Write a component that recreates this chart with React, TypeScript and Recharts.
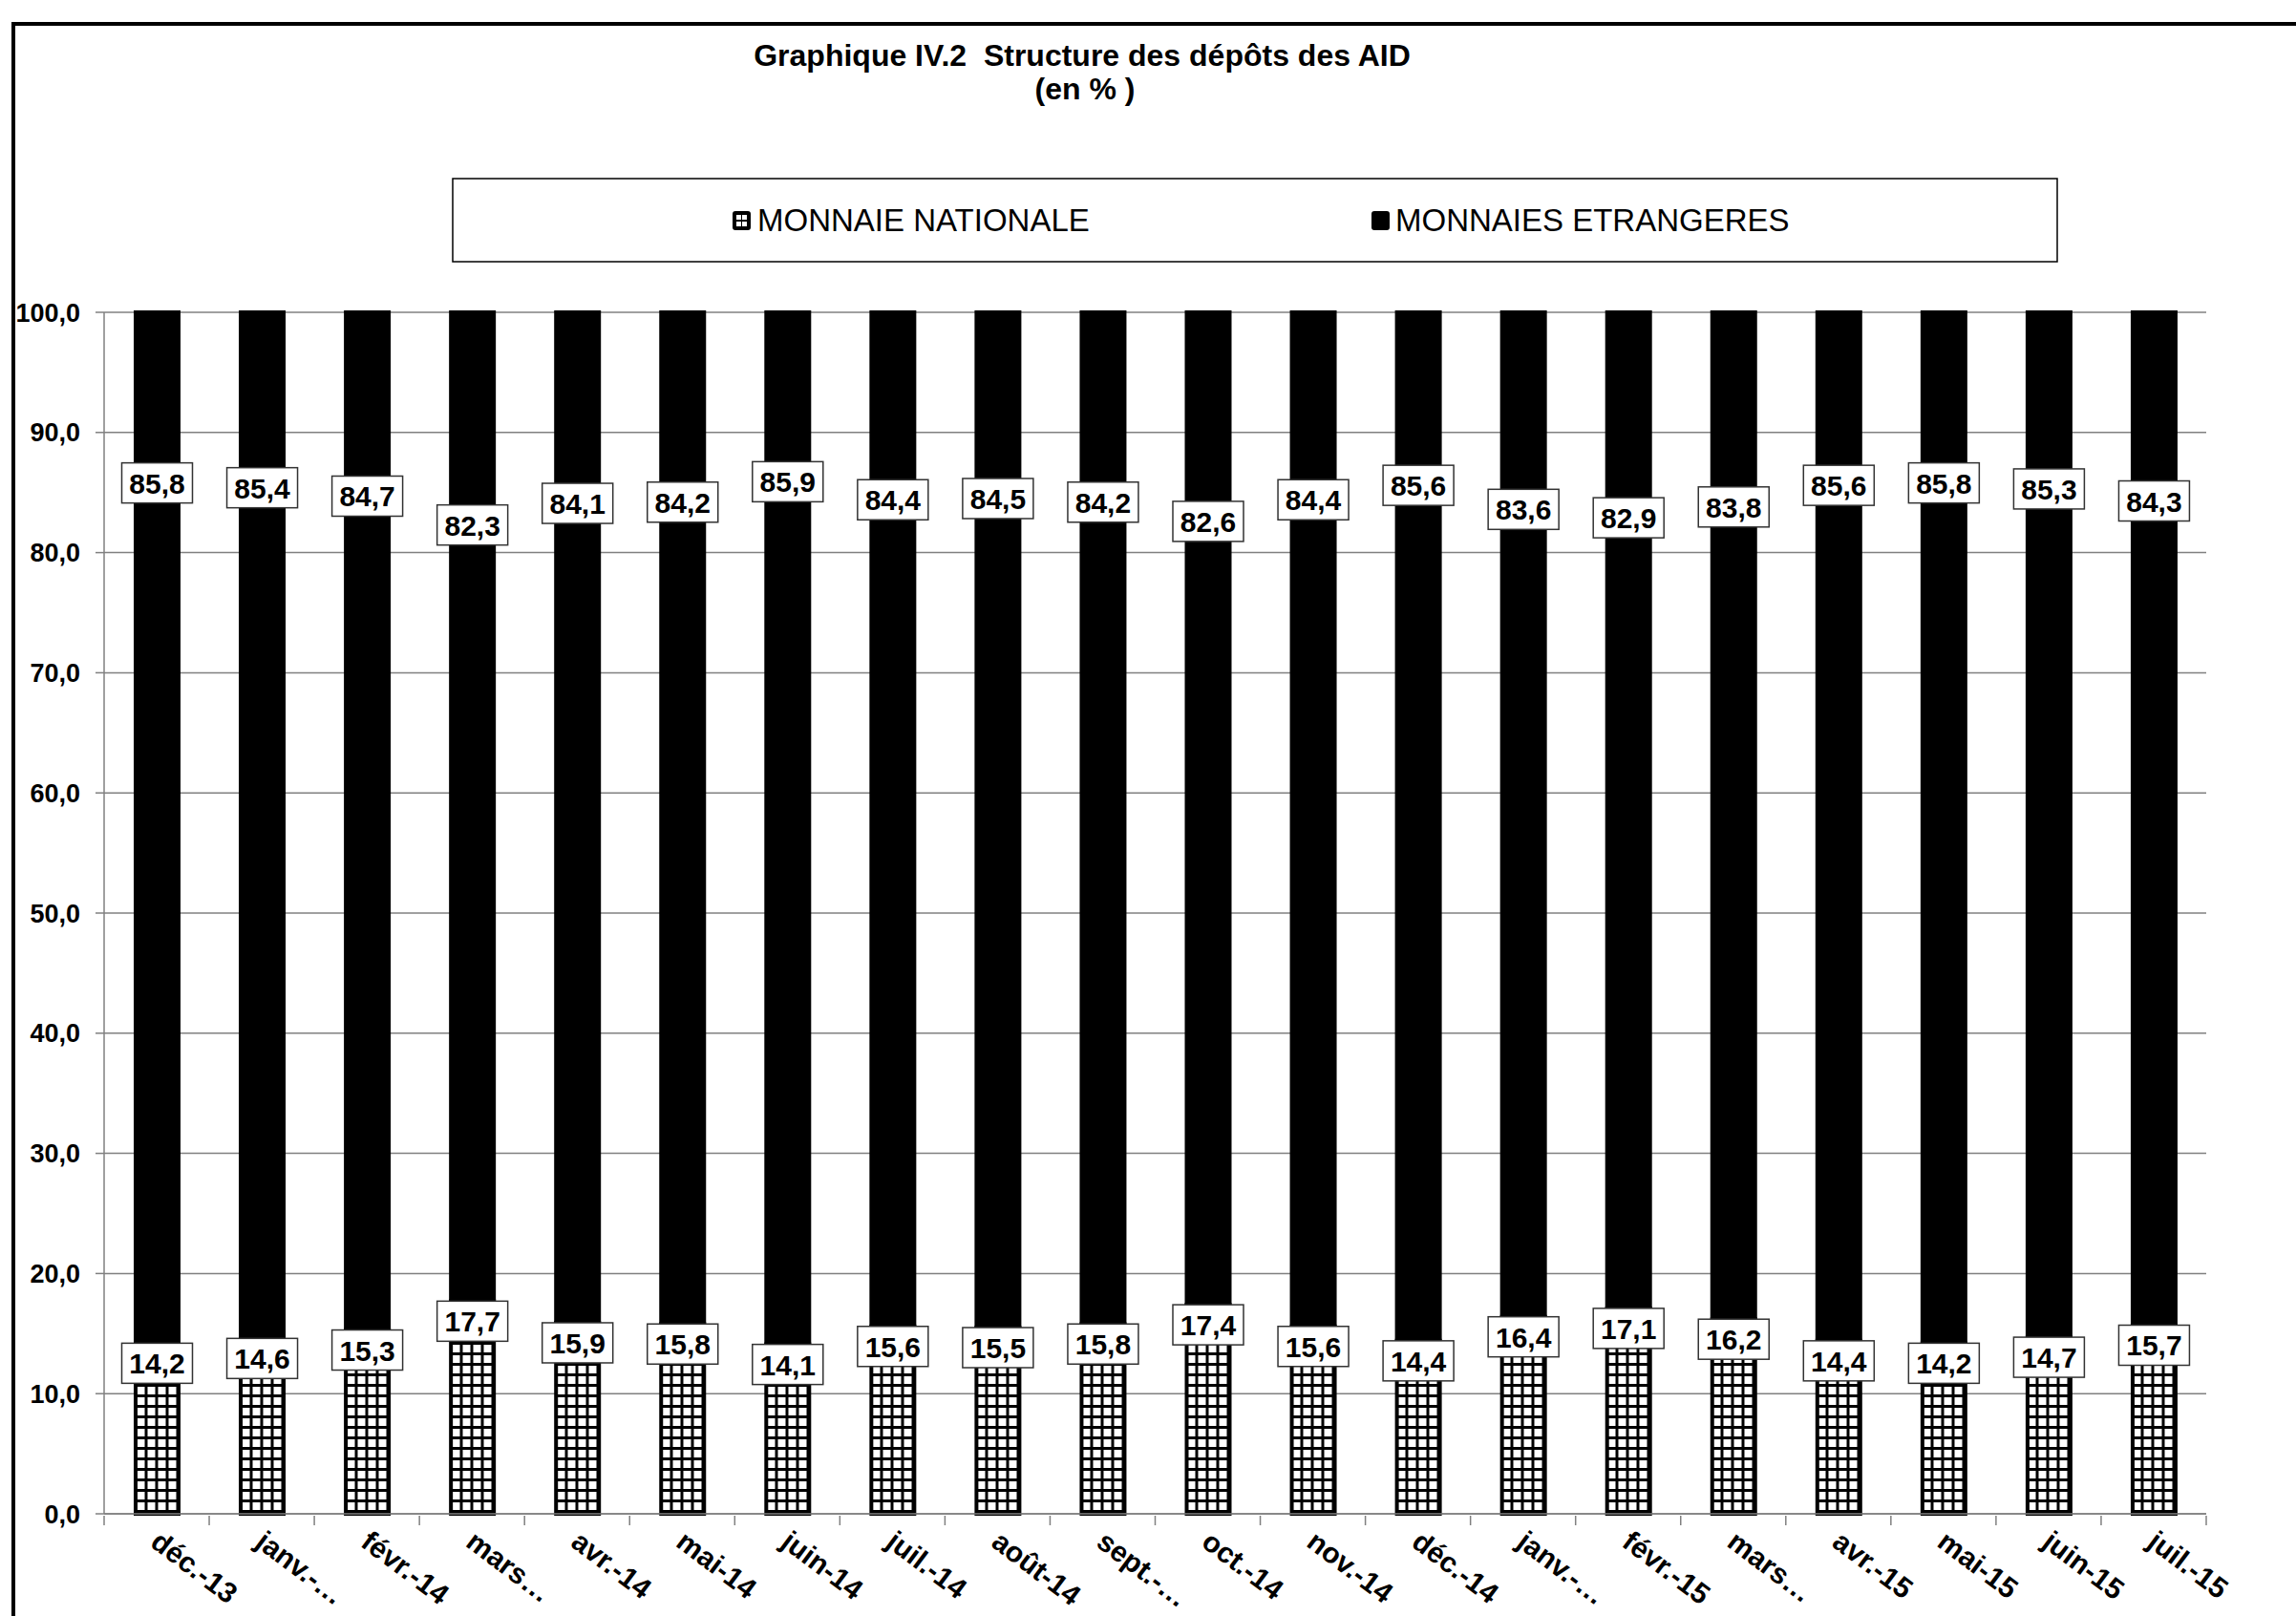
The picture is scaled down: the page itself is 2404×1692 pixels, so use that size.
import React from 'react';
import { BarChart, Bar, XAxis, YAxis, CartesianGrid, LabelList } from 'recharts';

const MONTHS = [
  'déc.-13', 'janv.-14', 'févr.-14', 'mars-14', 'avr.-14', 'mai-14', 'juin-14', 'juil.-14', 'août-14', 'sept.-14',
  'oct.-14', 'nov.-14', 'déc.-14', 'janv.-15', 'févr.-15', 'mars-15', 'avr.-15', 'mai-15', 'juin-15', 'juil.-15',
];
// labels as printed on the axis (Excel truncated some of them)
const TICK_LABELS = [
  'déc.-13', 'janv.-…', 'févr.-14', 'mars…', 'avr.-14', 'mai-14', 'juin-14', 'juil.-14', 'août-14', 'sept.-…',
  'oct.-14', 'nov.-14', 'déc.-14', 'janv.-…', 'févr.-15', 'mars…', 'avr.-15', 'mai-15', 'juin-15', 'juil.-15',
];
const NATIONALE = [14.2, 14.6, 15.3, 17.7, 15.9, 15.8, 14.1, 15.6, 15.5, 15.8, 17.4, 15.6, 14.4, 16.4, 17.1, 16.2, 14.4, 14.2, 14.7, 15.7];
const ETRANGERES = [85.8, 85.4, 84.7, 82.3, 84.1, 84.2, 85.9, 84.4, 84.5, 84.2, 82.6, 84.4, 85.6, 83.6, 82.9, 83.8, 85.6, 85.8, 85.3, 84.3];
const Y_TICKS = [0, 10, 20, 30, 40, 50, 60, 70, 80, 90, 100];

const data = MONTHS.map((m, i) => ({ month: m, nat: NATIONALE[i], etr: ETRANGERES[i] }));

const W = 2404;
const H = 1692;
const PLOT_LEFT = 109;
const PLOT_RIGHT = 2310;
const PLOT_TOP = 327;
const PLOT_BOTTOM = 1585;
const BAND = (PLOT_RIGHT - PLOT_LEFT) / MONTHS.length;
const FONT = '"Liberation Sans", Arial, Helvetica, sans-serif';
const GRID = '#808080';

const fmt = (v: number) => v.toFixed(1).replace('.', ',');

const XTick = ({ x, y, index }: any) => {
  const last = index === MONTHS.length - 1;
  const ax = x - 8;
  const ay = y + 31;
  return (
    <g>
      <line x1={x - BAND / 2} x2={x - BAND / 2} y1={y} y2={y + 10} stroke={GRID} strokeWidth={1.5} />
      {last && <line x1={x + BAND / 2} x2={x + BAND / 2} y1={y} y2={y + 10} stroke={GRID} strokeWidth={1.5} />}
      <text
        x={ax}
        y={ay}
        transform={`rotate(37, ${ax}, ${ay})`}
        textAnchor="start"
        fontFamily={FONT}
        fontWeight="bold"
        fontSize={30}
        fill="#000"
      >
        {TICK_LABELS[index]}
      </text>
    </g>
  );
};

const LabelBox = ({ cx, top, text }: { cx: number; top: number; text: string }) => (
  <g>
    <rect x={cx - 37} y={top} width={74} height={42} fill="#fff" stroke="#333" strokeWidth={1.5} />
    <text x={cx} y={top + 32} textAnchor="middle" fontFamily={FONT} fontWeight="bold" fontSize={30} fill="#000">
      {text}
    </text>
  </g>
);

// hatched series: box sits just under the top of the segment
const natLabel = (props: any) => {
  const { x, y, width, value } = props;
  return <LabelBox cx={x + width / 2} top={y} text={fmt(value)} />;
};

// dark series: box centred on the level of its own value
const etrLabel = (props: any) => {
  const { x, y, width, height, value } = props;
  const perUnit = height / value;
  const cy = y + (100 - value) * perUnit;
  return <LabelBox cx={x + width / 2} top={cy - 21} text={fmt(value)} />;
};

const HatchIcon = ({ x, y }: { x: number; y: number }) => (
  <g>
    <rect x={x} y={y} width={19} height={20} rx={3} fill="#000" />
    <rect x={x + 4} y={y + 4} width={5} height={5} fill="#fff" />
    <rect x={x + 10} y={y + 4} width={5} height={5} fill="#fff" />
    <rect x={x + 4} y={y + 11} width={5} height={5} fill="#fff" />
    <rect x={x + 10} y={y + 11} width={5} height={5} fill="#fff" />
  </g>
);

export default function App() {
  return (
    <div style={{ position: 'absolute', left: 0, top: 0, width: W, height: H, overflow: 'hidden', background: '#fff' }}>
      <svg width={W} height={H} style={{ position: 'absolute', left: 0, top: 0 }}>
        <defs>
          <pattern id="hatch" patternUnits="userSpaceOnUse" x={143.5} y={0} width={11} height={11}>
            <rect width={11} height={11} fill="#000" />
            <rect x={0} y={0} width={8} height={8} fill="#fff" />
          </pattern>
        </defs>
        {/* chart frame, right and bottom edges fall outside the picture */}
        <line x1={14} x2={14} y1={23} y2={H} stroke="#000" strokeWidth={4} />
        <line x1={12} x2={W} y1={25} y2={25} stroke="#000" strokeWidth={4} />
        <text x={1133} y={69} textAnchor="middle" fontFamily={FONT} fontWeight="bold" fontSize={32} style={{ whiteSpace: 'pre' }}>
          {'Graphique IV.2  Structure des dépôts des AID'}
        </text>
        <text x={1136} y={104} textAnchor="middle" fontFamily={FONT} fontWeight="bold" fontSize={32} style={{ whiteSpace: 'pre' }}>
          {'(en % )'}
        </text>
        <rect x={474} y={187} width={1680} height={87} fill="#fff" stroke="#000" strokeWidth={1.5} />
        <HatchIcon x={767} y={221} />
        <text x={793} y={242} fontFamily={FONT} fontSize={33}>MONNAIE NATIONALE</text>
        <rect x={1436} y={221} width={19} height={20} rx={3} fill="#000" />
        <text x={1461} y={242} fontFamily={FONT} fontSize={33}>MONNAIES ETRANGERES</text>
      </svg>
      <div style={{ position: 'absolute', left: 0, top: 0 }}>
        <BarChart
          width={W}
          height={H}
          data={data}
          margin={{ top: PLOT_TOP, right: W - PLOT_RIGHT, bottom: H - PLOT_BOTTOM - 100, left: PLOT_LEFT - 90 }}
        >
          <CartesianGrid yAxisId="l" vertical={false} stroke={GRID} strokeWidth={1.5} />
          <XAxis
            dataKey="month"
            interval={0}
            height={100}
            tickSize={0}
            tickLine={false}
            axisLine={{ stroke: GRID, strokeWidth: 1.5 }}
            tick={<XTick />}
          />
          <YAxis
            yAxisId="l"
            width={90}
            domain={[0, 100]}
            ticks={Y_TICKS}
            tickFormatter={fmt}
            tickSize={9}
            tickMargin={16}
            axisLine={{ stroke: GRID, strokeWidth: 1.5 }}
            tickLine={{ stroke: GRID, strokeWidth: 1.5 }}
            tick={{ fill: '#000', fontSize: 27, fontWeight: 'bold', fontFamily: FONT }}
          />
          <YAxis
            yAxisId="r"
            orientation="right"
            width={0}
            domain={[0, 100]}
            tick={false}
            tickLine={false}
            axisLine={{ stroke: GRID, strokeWidth: 1.5 }}
          />
          <Bar
            yAxisId="l"
            dataKey="nat"
            name="MONNAIE NATIONALE"
            stackId="s"
            barSize={45}
            fill="url(#hatch)"
            stroke="#000"
            strokeWidth={4}
            isAnimationActive={false}
          >
            <LabelList dataKey="nat" content={natLabel} />
          </Bar>
          <Bar
            yAxisId="l"
            dataKey="etr"
            name="MONNAIES ETRANGERES"
            stackId="s"
            barSize={45}
            fill="#000"
            stroke="#000"
            strokeWidth={4}
            isAnimationActive={false}
          >
            <LabelList dataKey="etr" content={etrLabel} />
          </Bar>
        </BarChart>
      </div>
    </div>
  );
}
